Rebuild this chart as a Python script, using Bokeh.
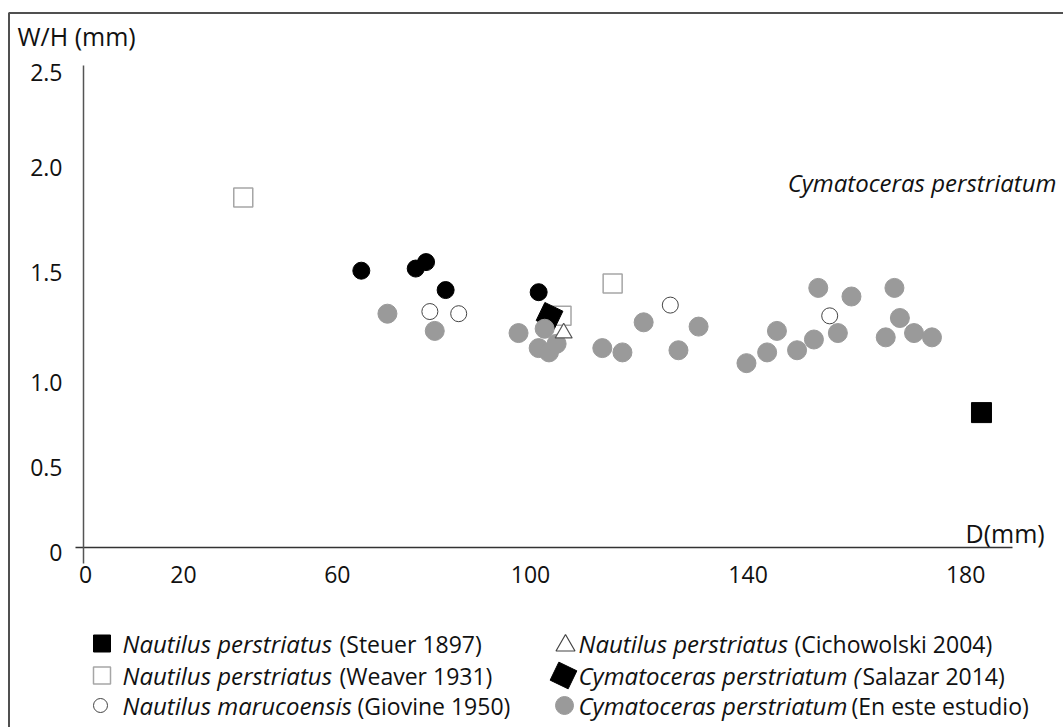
from bokeh.plotting import figure
from bokeh.models import LinearAxis, FixedTicker, BoxAnnotation, Range1d
from bokeh.core.properties import value
from bokeh.embed import file_html
from bokeh.resources import INLINE

# ---------------- data ----------------
# Nautilus perstriatus (Steuer 1897)
steuer_D = [182.9]
steuer_WH = [0.86]
# Nautilus perstriatus (Weaver 1931)
weaver_D = [47.2, 105.7, 115.1]
weaver_WH = [1.86, 1.31, 1.46]
# Nautilus marucoensis (Giovine 1950)
giovine_D = [81.5, 86.8, 125.7, 155.0]
giovine_WH = [1.33, 1.32, 1.36, 1.31]
# Nautilus perstriatus (Cichowolski 2004)
cicho_D = [106.1]
cicho_WH = [1.23]
# Cymatoceras perstriatum (Salazar 2014)
salazar_D = [103.5]
salazar_WH = [1.31]
# black circles (no legend entry in the original)
black_D = [68.9, 78.9, 80.8, 84.4, 101.5]
black_WH = [1.52, 1.53, 1.56, 1.43, 1.42]
# Cymatoceras perstriatum (En este estudio)
study_D = [73.7, 82.4, 97.8, 102.6, 101.5, 103.4, 104.8, 113.2, 116.9, 120.8,
           127.2, 130.9, 139.7, 143.5, 145.3, 149.0, 152.1, 152.9, 156.5, 159.0,
           165.3, 166.9, 167.9, 170.5, 173.8]
study_WH = [1.32, 1.24, 1.23, 1.25, 1.16, 1.14, 1.18, 1.16, 1.14, 1.28,
            1.15, 1.26, 1.09, 1.14, 1.24, 1.15, 1.20, 1.44, 1.23, 1.40,
            1.21, 1.44, 1.30, 1.23, 1.21]

# tick labels as printed (the printed axis is not evenly spaced)
x_tick_labels = ["0", "20", "60", "100", "140", "180"]
x_tick_pos = [18.2, 36.2, 64.5, 100.0, 140.0, 180.0]
y_tick_labels = ["0", "0.5", "1.0", "1.5", "2.0", "2.5"]
y_tick_pos = [0.209, 0.605, 1.0, 1.512, 2.0, 2.442]

# ---------------- layout helpers (pixel -> data) ----------------
W, H = 1063, 727
XS, YS = 5.44, 215.0
X0 = 100 - 530 / XS
Y0 = 1 + 382 / YS


def dx(px):
    return X0 + px / XS


def dy(py):
    return Y0 - py / YS


FONT = "Open Sans"
TXT = "#111111"

p = figure(width=W, height=H, output_backend="svg", toolbar_location=None,
           x_range=Range1d(dx(0), dx(W)), y_range=Range1d(dy(H), dy(0)),
           x_axis_location=None, y_axis_location=None, min_border=0,
           background_fill_color="white", border_fill_color="white")
p.outline_line_color = None
p.grid.visible = False

# axes
xaxis = LinearAxis(fixed_location=dy(547), bounds=(dx(75), dx(1012)),
                   ticker=FixedTicker(ticks=x_tick_pos),
                   major_label_overrides={float(t): l for t, l in zip(x_tick_pos, x_tick_labels)})
yaxis = LinearAxis(fixed_location=dx(83), bounds=(dy(563), dy(65)),
                   ticker=FixedTicker(ticks=y_tick_pos),
                   major_label_overrides={float(t): l for t, l in zip(y_tick_pos, y_tick_labels)})
for ax, col in ((xaxis, "#333333"), (yaxis, "#555555")):
    ax.axis_line_color = col
    ax.axis_line_width = 1.5
    ax.major_tick_line_color = None
    ax.minor_tick_line_color = None
    ax.major_tick_out = 0
    ax.major_tick_in = 0
    ax.major_label_text_font = FONT
    ax.major_label_text_font_size = "23px"
    ax.major_label_text_color = TXT
xaxis.major_label_standoff = 18
yaxis.major_label_standoff = 21
p.add_layout(xaxis, "below")
p.add_layout(yaxis, "left")

# outer frame (only left and top edges fall inside the picture)
p.add_layout(BoxAnnotation(left=dx(8.5), top=dy(12.5), right=dx(W + 40), bottom=dy(H + 40),
                           fill_color=None, fill_alpha=0, line_color="#505050",
                           line_alpha=1.0, line_width=2))

# ---------------- points ----------------
p.scatter(weaver_D, weaver_WH, marker="square", size=19, fill_color="white",
          line_color="#a6a6a6", line_width=1.5)
p.scatter(salazar_D, salazar_WH, marker="square", size=20, angle=-0.45,
          fill_color="black", line_color="black")
p.scatter(study_D, study_WH, marker="circle", size=19, fill_color="#9a9a9a",
          line_color="#9a9a9a")
p.scatter(black_D, black_WH, marker="circle", size=17, fill_color="black",
          line_color="black")
p.scatter(giovine_D, giovine_WH, marker="circle", size=16, fill_color="white",
          line_color="#444444", line_width=1)
p.scatter(cicho_D, cicho_WH, marker="triangle", size=17, fill_color="white",
          line_color="#555555", line_width=1.2)
p.scatter(steuer_D, steuer_WH, marker="square", size=20, fill_color="black",
          line_color="black")

# ---------------- texts ----------------
p.text(x=[dx(17)], y=[dy(35)], text=["W/H (mm)"], text_font=value(FONT),
       text_font_size="25px", text_baseline="middle", text_align="left", text_color=TXT)
p.text(x=[dx(965)], y=[dy(532)], text=["D(mm)"], text_font=value(FONT),
       text_font_size="25px", text_baseline="middle", text_align="left", text_color=TXT)
p.text(x=[dx(1056)], y=[dy(182)], text=["Cymatoceras perstriatum"], text_font=value(FONT),
       text_font_size="24px", text_font_style="italic", text_baseline="middle",
       text_align="right", text_color=TXT)

# ---------------- legend ----------------
rows = [643, 675, 705]
p.scatter([dx(101.5)], [dy(rows[0])], marker="square", size=17, fill_color="black", line_color="black")
p.scatter([dx(101.5)], [dy(rows[1])], marker="square", size=17, fill_color="white",
          line_color="#a6a6a6", line_width=1.5)
p.scatter([dx(100)], [dy(rows[2])], marker="circle", size=14, fill_color="white",
          line_color="#444444", line_width=1)
p.scatter([dx(565)], [dy(rows[0] + 2)], marker="triangle", size=19, fill_color="white",
          line_color="#444444", line_width=1.2)
p.scatter([dx(563)], [dy(rows[1])], marker="square", size=20, angle=-0.45,
          fill_color="black", line_color="black")
p.scatter([dx(564)], [dy(rows[2])], marker="circle", size=18, fill_color="#9a9a9a",
          line_color="#9a9a9a")

leg_italic = ["Nautilus perstriatus", "Nautilus perstriatus", "Nautilus marucoensis",
              "Nautilus perstriatus", "Cymatoceras perstriatum (", "Cymatoceras perstriatum"]
leg_regular = ["(Steuer 1897)", "(Weaver 1931)", "(Giovine 1950)",
               "(Cichowolski 2004)", "Salazar 2014)", "(En este estudio)"]
it_x = [122, 122, 122, 578, 578, 578]
rg_x = [339, 339, 357, 794, 862, 851]
ly = rows + rows
p.text(x=[dx(v) for v in it_x], y=[dy(v) for v in ly], text=leg_italic,
       text_font=value(FONT), text_font_size="24px", text_font_style="italic",
       text_baseline="middle", text_align="left", text_color=TXT)
p.text(x=[dx(v) for v in rg_x], y=[dy(v) for v in ly], text=leg_regular,
       text_font=value(FONT), text_font_size="23px",
       text_baseline="middle", text_align="left", text_color=TXT)

open("out.html", "w").write(file_html(p, INLINE))
